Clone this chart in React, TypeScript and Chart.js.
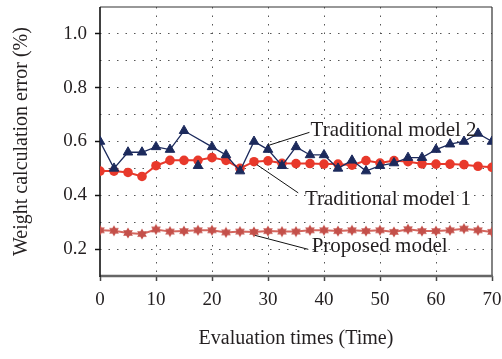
import React, { useEffect, useRef } from "react";
import { Chart, registerables } from "chart.js";

Chart.register(...registerables);

// ---- data ----
const evaluationTimes = [
  0, 2.5, 5, 7.5, 10, 12.5, 15, 17.5, 20, 22.5, 25, 27.5, 30, 32.5, 35,
  37.5, 40, 42.5, 45, 47.5, 50, 52.5, 55, 57.5, 60, 62.5, 65, 67.5, 70,
];
const traditionalModel2 = [
  0.6, 0.5, 0.56, 0.56, 0.58, 0.57, 0.64, 0.51, 0.58, 0.55, 0.49, 0.6, 0.57,
  0.51, 0.58, 0.55, 0.55, 0.5, 0.53, 0.49, 0.51, 0.52, 0.54, 0.54, 0.57, 0.59,
  0.6, 0.63, 0.6,
];
// markers of model 2 that are drawn off its connecting line
const traditionalModel2MarkerOnly = [17.5];
const traditionalModel1 = [
  0.49, 0.49, 0.485, 0.47, 0.51, 0.53, 0.53, 0.53, 0.54, 0.53, 0.5, 0.525,
  0.528, 0.519, 0.518, 0.518, 0.516, 0.516, 0.512, 0.529, 0.52, 0.529, 0.525,
  0.517, 0.516, 0.516, 0.514, 0.508, 0.504,
];
const proposedModel = [
  0.27, 0.268, 0.26, 0.256, 0.273, 0.265, 0.267, 0.27, 0.27, 0.262, 0.265,
  0.264, 0.267, 0.265, 0.265, 0.27, 0.27, 0.267, 0.27, 0.267, 0.27, 0.264,
  0.274, 0.267, 0.267, 0.27, 0.276, 0.27, 0.264,
];
const seriesNames = ["Traditional model 2", "Traditional model 1", "Proposed model"];
const xTickLabels = ["0", "10", "20", "30", "40", "50", "60", "70"];
const yTickLabels = ["0.2", "0.4", "0.6", "0.8", "1.0"];

// ---- annotation placement (data coordinates) ----
const annotations = [
  { text: seriesNames[0], at: [37.6, 0.622], from: [30, 0.585], to: [37.4, 0.634] },
  { text: seriesNames[1], at: [36.6, 0.363], from: [28.0, 0.514], to: [35.4, 0.409] },
  { text: seriesNames[2], at: [37.8, 0.189], from: [27.7, 0.251], to: [37.2, 0.199] },
];

const FONT = "'Liberation Serif', 'Times New Roman', serif";
const TEXT = "#231f20";

function makeStar(fill: string) {
  const c = document.createElement("canvas");
  const s = 12;
  c.width = s;
  c.height = s;
  const g = c.getContext("2d")!;
  g.fillStyle = fill;
  g.beginPath();
  const n = 6;
  const R = 5.6;
  const r = 3.3;
  for (let i = 0; i < n * 2; i++) {
    const a = -Math.PI / 2 + (i * Math.PI) / n;
    const rad = i % 2 === 0 ? R : r;
    const x = s / 2 + rad * Math.cos(a);
    const y = s / 2 + rad * Math.sin(a);
    if (i === 0) g.moveTo(x, y);
    else g.lineTo(x, y);
  }
  g.closePath();
  g.fill();
  return c;
}

const framePlugin = {
  id: "frame",
  beforeDatasetsDraw(chart: any) {
    const { ctx, chartArea: a } = chart;
    ctx.save();
    ctx.lineCap = "butt";
    ctx.strokeStyle = "#333";
    ctx.lineWidth = 1.2;
    ctx.beginPath();
    ctx.moveTo(a.left, a.top);
    ctx.lineTo(a.right, a.top);
    ctx.moveTo(a.right, a.top);
    ctx.lineTo(a.right, a.bottom);
    ctx.stroke();
    ctx.strokeStyle = "#666";
    ctx.lineWidth = 2.5;
    ctx.beginPath();
    ctx.moveTo(a.left, a.bottom);
    ctx.lineTo(a.right + 1, a.bottom);
    ctx.stroke();
    ctx.strokeStyle = "#111";
    ctx.lineWidth = 1.6;
    ctx.beginPath();
    ctx.moveTo(a.left, a.top);
    ctx.lineTo(a.left, a.bottom + 1);
    ctx.stroke();
    ctx.restore();
  },
};

const annotationPlugin = {
  id: "leaderLabels",
  afterDatasetsDraw(chart: any) {
    const { ctx } = chart;
    const xs = chart.scales.x;
    const ys = chart.scales.y;
    ctx.save();
    for (const an of annotations) {
      ctx.strokeStyle = "#111";
      ctx.lineWidth = 1;
      ctx.beginPath();
      ctx.moveTo(xs.getPixelForValue(an.from[0]), ys.getPixelForValue(an.from[1]));
      ctx.lineTo(xs.getPixelForValue(an.to[0]), ys.getPixelForValue(an.to[1]));
      ctx.stroke();
      ctx.font = `21px ${FONT}`;
      ctx.fillStyle = TEXT;
      ctx.textBaseline = "alphabetic";
      ctx.textAlign = "left";
      ctx.fillText(an.text, xs.getPixelForValue(an.at[0]), ys.getPixelForValue(an.at[1]));
    }
    ctx.restore();
  },
};

function isLabeledY(v: number) {
  return yTickLabels.indexOf(v.toFixed(1)) >= 0 && Math.abs(v * 10 - Math.round(v * 10)) < 1e-6;
}

export default function App() {
  const ref = useRef<HTMLCanvasElement | null>(null);
  useEffect(() => {
    if (!ref.current) return;
    const star = makeStar("#c4504a");
    const pts = (vals: number[]) => evaluationTimes.map((x, i) => ({ x, y: vals[i] }));
    const model2Line = evaluationTimes.map((x, i) => ({
      x,
      y: traditionalModel2MarkerOnly.indexOf(x) >= 0 ? null : traditionalModel2[i],
    }));
    const model2Markers = evaluationTimes
      .map((x, i) => ({ x, y: traditionalModel2[i] }))
      .filter((p) => traditionalModel2MarkerOnly.indexOf(p.x) >= 0);
    const navy = "#1c2a5c";
    const chart = new Chart(ref.current, {
      type: "line",
      data: {
        datasets: [
          {
            label: seriesNames[0],
            data: model2Line as any,
            borderColor: navy,
            backgroundColor: navy,
            borderWidth: 1.3,
            pointStyle: "triangle",
            pointRadius: 5.5,
            pointBorderWidth: 1,
            spanGaps: true,
          },
          {
            label: seriesNames[0] + " (marker)",
            data: model2Markers as any,
            borderColor: navy,
            backgroundColor: navy,
            showLine: false,
            pointStyle: "triangle",
            pointRadius: 5.5,
            pointBorderWidth: 1,
          },
          {
            label: seriesNames[1],
            data: pts(traditionalModel1) as any,
            borderColor: "#e8392b",
            backgroundColor: "#e8392b",
            borderWidth: 2,
            pointStyle: "circle",
            pointRadius: 4.8,
            pointBorderWidth: 0,
          },
          {
            label: seriesNames[2],
            data: pts(proposedModel) as any,
            borderColor: "#d4675f",
            backgroundColor: "#c4504a",
            borderWidth: 2,
            pointStyle: star as any,
            pointRadius: 5,
          },
        ],
      },
      options: {
        animation: false,
        responsive: true,
        maintainAspectRatio: false,
        layout: { padding: { left: 0, right: 10, top: 7, bottom: 0 } },
        plugins: {
          legend: { display: false },
          tooltip: { enabled: false },
        },
        elements: { line: { tension: 0 } },
        scales: {
          x: {
            type: "linear",
            min: 0,
            max: 70,
            ticks: {
              stepSize: 10,
              padding: 8,
              color: TEXT,
              font: { family: FONT, size: 19 },
              callback: (v: any) => {
                const s = String(v);
                return xTickLabels.indexOf(s) >= 0 ? s : "";
              },
            },
            grid: {
              color: (c: any) =>
                c.tick && (c.tick.value === 0 || c.tick.value === 70) ? "rgba(0,0,0,0)" : "#555",
              lineWidth: 1,
              tickLength: 5,
              tickColor: "#444",
              tickWidth: 1.5,
            },
            border: { display: false, dash: [1.5, 7] },
            title: {
              display: true,
              text: "Evaluation times (Time)",
              color: TEXT,
              font: { family: FONT, size: 20 },
              padding: { top: 0, bottom: 8.5 },
            },
            afterFit: (s: any) => {
              s.height = 83;
              s.paddingLeft = 0;
              s.paddingRight = 0;
            },
          },
          y: {
            min: 0.1,
            max: 1.1,
            ticks: {
              stepSize: 0.1,
              padding: 8,
              color: TEXT,
              font: { family: FONT, size: 19 },
              callback: (v: any) => (isLabeledY(Number(v)) ? Number(v).toFixed(1) : ""),
            },
            grid: {
              color: (c: any) => {
                if (!c.tick) return "#555";
                const v = c.tick.value;
                return v < 0.15 || v > 1.05 ? "rgba(0,0,0,0)" : "#555";
              },
              lineWidth: 1,
              tickLength: 5,
              tickWidth: 1.5,
              tickColor: (c: any) =>
                c.tick && isLabeledY(c.tick.value) ? "#111" : "rgba(0,0,0,0)",
            },
            border: { display: false, dash: [1.5, 7] },
            title: {
              display: true,
              text: "Weight calculation error (%)",
              color: TEXT,
              font: { family: FONT, size: 20 },
              padding: { top: 10, bottom: 0 },
            },
            afterFit: (s: any) => {
              s.width = 100;
              s.paddingTop = 0;
              s.paddingBottom = 0;
            },
          },
        },
      },
      plugins: [framePlugin, annotationPlugin],
    });
    return () => chart.destroy();
  }, []);

  return (
    <div style={{ position: "absolute", left: 0, top: 0, width: 502, height: 359, background: "#fff" }}>
      <canvas ref={ref} />
    </div>
  );
}
